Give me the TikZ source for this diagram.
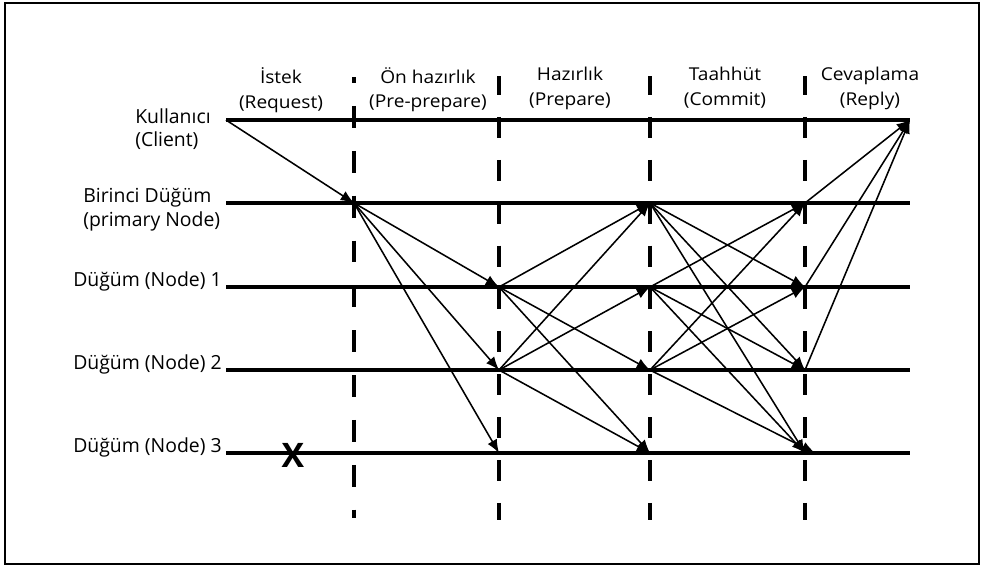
\documentclass[tikz,border=0pt]{standalone}
\usepackage{fontspec}
\setmainfont{Open Sans}
\newfontfamily\headfont[FakeStretch=1.08]{Open Sans}
\usetikzlibrary{arrows.meta}
\tikzset{
	lifeline/.style={line width=3.5pt},
	phaseline/.style={line width=2.8pt, dash pattern=on 14.9pt off 15.6pt},
	msg/.style={line width=1.1pt, -{Latex[length=9.5pt,width=7.5pt]}},
	lbl/.style={inner sep=0pt, font=\fontsize{13.8}{17}\selectfont, align=left},
	hdr/.style={inner sep=0pt, font=\headfont\fontsize{12.6}{17.7}\selectfont, align=center}
}

\begin{document}
\begin{tikzpicture}[x=0.025cm, y=-0.025cm]
	\useasboundingbox (0,0) rectangle (984,567);
	\draw[line width=1.3pt] (5,3) rectangle (979,564);

	% points on every line, one per phase column
	\foreach \name/\y in {c/120, p/203, n1/287, n2/370, n3/453} {
		\foreach \i/\x in {0/226, 1/354, 2/499, 3/650, 4/805, 5/910}
			\coordinate (\name-\i) at (\x,\y);
	}
	\coordinate (n3-late) at (815,453);

	% phase borders
	\coordinate (top1) at (354,77);
	\coordinate (bot1) at (354,518);
	\draw[phaseline, dash pattern=on 15.6pt off 16.3pt, dash phase=11.3pt] (top1) -- (bot1);
	\foreach \i/\x in {2/499, 3/650, 4/805} {
		\coordinate (top\i) at (\x,76);
		\coordinate (bot\i) at (\x,520);
		\draw[phaseline, dash phase=1.4pt] (top\i) -- (bot\i);
	}

	% the lines
	\foreach \name in {c, p, n1, n2, n3}
		\draw[lifeline] (\name-0) -- (\name-5);

	\node[lbl, anchor=north west] (client) at (135,108) {Kullanıcı\\(Client)};
	\node[lbl, anchor=north west] (primary) at (83,188) {Birinci Düğüm\\(primary Node)};
	\node[lbl, anchor=base east] (node1) at (222,286) {Düğüm (Node) 1};
	\node[lbl, anchor=base east] (node2) at (222,369) {Düğüm (Node) 2};
	\node[lbl, anchor=base east] (node3) at (222,452) {Düğüm (Node) 3};
	\node[inner sep=0pt, font=\bfseries\fontsize{24}{24}\selectfont] (fail) at (293,455) {X};

	\node[hdr, anchor=north] (request) at (281,67) {İstek\\(Request)};
	\node[hdr, anchor=north] (preprepare) at (428,67) {Ön hazırlık\\(Pre-prepare)};
	\node[hdr, anchor=north] (prepare) at (570,67) {Hazırlık\\(Prepare)};
	\node[hdr, anchor=north] (commit) at (725,67) {Taahhüt\\(Commit)};
	\node[hdr, anchor=north] (reply) at (870,67) {Cevaplama\\(Reply)};

	% messages
	\draw[msg] (c-0) -- (p-1);
	\foreach \to in {n1, n2, n3}
		\draw[msg] (p-1) -- (\to-2);
	\foreach \from/\to in {n1/p, n1/n2, n1/n3, n2/p, n2/n1, n2/n3}
		\draw[msg] (\from-2) -- (\to-3);
	\foreach \from/\to in {p/n1, p/n2, p/n3, n1/p, n1/n2, n1/n3, n2/p, n2/n1}
		\draw[msg] (\from-3) -- (\to-4);
	\draw[msg] (n2-3) -- (n3-late);
	\foreach \from in {p, n1, n2}
		\draw[msg] (\from-4) -- (c-5);
\end{tikzpicture}
\end{document}
